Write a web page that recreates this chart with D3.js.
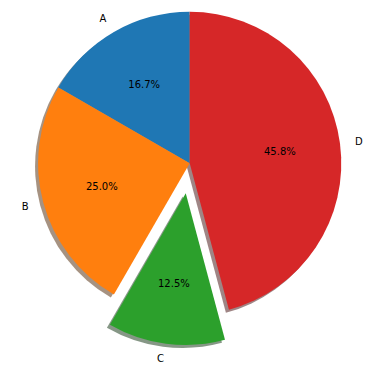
<!DOCTYPE html>
<html>
<head>
<meta charset="utf-8">
<script src="https://cdn.jsdelivr.net/npm/d3@7"></script>
<style>
  html, body { margin: 0; padding: 0; background: #fff; }
  text { font-family: "DejaVu Sans", sans-serif; font-size: 10px; fill: #000; }
</style>
</head>
<body>
<svg id="chart" width="377" height="374"></svg>
<script>
var labels = ["A", "B", "C", "D"];
var values = [4, 6, 3, 11];
var explode = [0, 0, 0.2, 0];
var colors = ["#1f77b4", "#ff7f0e", "#2ca02c", "#d62728"];

var cx = 189.7, cy = 163.3, R = 151.6;
var rs = d3.scaleLinear().domain([0, 1]).range([0, R]);

var svg = d3.select("#chart");
var g = svg.append("g").attr("transform", "translate(" + cx + "," + cy + ")");

// matplotlib: startangle 90, counter-clockwise
var pie = d3.pie().sort(null).value(function(d){ return d; })
    .startAngle(0).endAngle(-2 * Math.PI);
var arcs = pie(values);
var arc = d3.arc().innerRadius(0).outerRadius(rs(1));
var total = d3.sum(values);

function pos(a, d){
    var m = (a.startAngle + a.endAngle) / 2;
    return [Math.sin(m) * rs(d), -Math.cos(m) * rs(d)];
}

// shadows first (below every wedge)
arcs.forEach(function(a, i){
    var off = pos(a, explode[i]);
    var c = d3.rgb(colors[i]);
    var sc = d3.rgb(c.r * 0.3, c.g * 0.3, c.b * 0.3);
    g.append("path")
        .attr("d", arc(a))
        .attr("transform", "translate(" + (off[0] - rs(0.02)) + "," + (off[1] + rs(0.02)) + ")")
        .attr("fill", sc)
        .attr("fill-opacity", 0.5);
});

arcs.forEach(function(a, i){
    var off = pos(a, explode[i]);
    g.append("path")
        .attr("d", arc(a))
        .attr("transform", "translate(" + off[0] + "," + off[1] + ")")
        .attr("fill", colors[i]);
});

arcs.forEach(function(a, i){
    var off = pos(a, explode[i]);
    var lp = pos(a, 1.1);
    var lx = off[0] + lp[0], ly = off[1] + lp[1];
    g.append("text")
        .attr("x", lx)
        .attr("y", ly)
        .attr("dominant-baseline", "central")
        .attr("text-anchor", lx > 0 ? "start" : "end")
        .text(labels[i]);

    var pp = pos(a, 0.6);
    g.append("text")
        .attr("x", off[0] + pp[0])
        .attr("y", off[1] + pp[1])
        .attr("dominant-baseline", "central")
        .attr("text-anchor", "middle")
        .text((values[i] / total * 100).toFixed(1) + "%");
});
</script>
</body>
</html>
